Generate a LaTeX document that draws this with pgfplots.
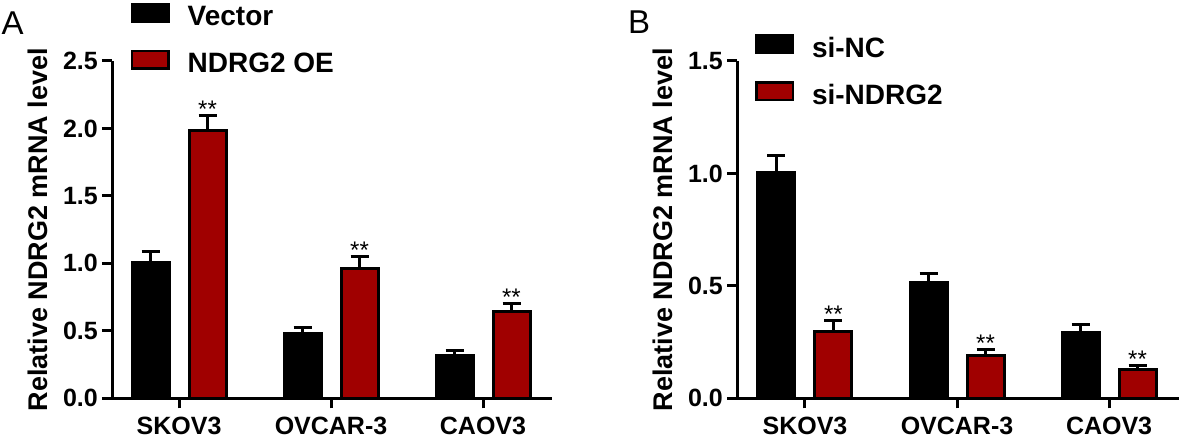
\documentclass[border=0pt]{standalone}
\usepackage{pgfplots}
\pgfplotsset{compat=1.18}
\usepackage{pgfplotstable}
\usepackage{fontspec}
\setmainfont{Liberation Sans}
\definecolor{barred}{RGB}{160,0,0}

\pgfplotstableread{
x y err
0 1.005 0.083
1 0.479 0.045
2 0.314 0.037
}\Avec
\pgfplotstableread{
x y err
0 1.984 0.109
1 0.964 0.086
2 0.642 0.057
}\Aoe
\pgfplotstableread{
x y err
0 1.005 0.074
1 0.514 0.039
2 0.293 0.033
}\Bnc
\pgfplotstableread{
x y err
0 0.296 0.049
1 0.189 0.026
2 0.129 0.015
}\Bsi

\pgfplotsset{
  mybase/.style={
    scale only axis,
    height=337.3pt,
    ymin=0,
    axis x line*=bottom,
    axis y line*=left,
    axis line style={line width=3pt,-},
    every tick/.style={line width=3pt,black},
    tick align=outside,
    major tick length=10pt,
    xtick={0,1,2},
    xticklabels={SKOV3,OVCAR-3,CAOV3},
    xticklabel style={font=\fontsize{25}{25}\selectfont\bfseries, anchor=north, inner sep=0pt, yshift=-9pt},
    yticklabel style={font=\fontsize{25}{25}\selectfont\bfseries, anchor=east, inner sep=0pt, xshift=-4pt},
    ylabel={Relative NDRG2 mRNA level},
    clip=false,
    legend cell align=left,
    legend image code/.code={\draw[##1, line width=2.5pt] (1.25pt,-5.75pt) rectangle (37.75pt,11.75pt);},
    legend style={draw=none, fill=none, anchor=north west, inner sep=0pt, outer sep=0pt,
      font=\fontsize{28}{28}\selectfont\bfseries, row sep=24pt, column sep=18pt,
      nodes={inner sep=0pt, text height=20pt, text depth=0pt}},
  },
  barcommon/.style={ybar, bar width=37pt, bar shift=0pt, draw=black, line width=3pt,
    error bars/.cd, y dir=plus, y explicit,
    error bar style={line width=3pt, black},
    error mark options={rotate=90, line width=3pt, black, mark size=9pt}},
  blackbar/.style={fill=black, barcommon},
  redbar/.style={fill=barred, barcommon},
  stars/.style={draw=none, mark=none, forget plot, nodes near coords={**},
    every node near coord/.style={font=\fontsize{24}{24}\selectfont, anchor=base, inner sep=0pt, yshift=-2pt}},
}

\begin{document}
\begin{tikzpicture}
\useasboundingbox (0,0) rectangle (1181pt,438pt);

\begin{axis}[mybase,
  at={(112pt,39.7pt)}, anchor=south west,
  width=440pt, xmin=-0.441, xmax=2.454,
  ymax=2.5, ytick={0,0.5,1,1.5,2,2.5},
  yticklabels={0.0,0.5,1.0,1.5,2.0,2.5},
  every axis y label/.style={at={(axis description cs:-0.1693,0.5)}, rotate=90, anchor=center, font=\fontsize{27}{27}\selectfont\bfseries},
  legend style={at={(axis description cs:0,1)}, xshift=18.7pt, yshift=58.2pt},
]
\addplot[blackbar] table[x expr=\thisrow{x}-0.1875, y=y, y error=err] {\Avec};
\addlegendentry{Vector}
\addplot[redbar] table[x expr=\thisrow{x}+0.1875, y=y, y error=err] {\Aoe};
\addlegendentry{NDRG2 OE}
\addplot[stars] table[x expr=\thisrow{x}+0.1875, y expr=\thisrow{y}+\thisrow{err}] {\Aoe};
\end{axis}

\begin{axis}[mybase,
  at={(737pt,39.7pt)}, anchor=south west,
  width=442pt, xmin=-0.447, xmax=2.46,
  ymax=1.5, ytick={0,0.5,1,1.5},
  yticklabels={0.0,0.5,1.0,1.5},
  every axis y label/.style={at={(axis description cs:-0.1674,0.5)}, rotate=90, anchor=center, font=\fontsize{27}{27}\selectfont\bfseries},
  legend style={at={(axis description cs:0,1)}, xshift=18pt, yshift=26.5pt},
]
\addplot[blackbar] table[x expr=\thisrow{x}-0.1875, y=y, y error=err] {\Bnc};
\addlegendentry{si-NC}
\addplot[redbar] table[x expr=\thisrow{x}+0.1875, y=y, y error=err] {\Bsi};
\addlegendentry{si-NDRG2}
\addplot[stars] table[x expr=\thisrow{x}+0.1875, y expr=\thisrow{y}+\thisrow{err}] {\Bsi};
\end{axis}

\node[anchor=base west, inner sep=0pt, font=\fontsize{33}{33}\selectfont] at (1.5pt,403.7pt) {A};
\node[anchor=base west, inner sep=0pt, font=\fontsize{33}{33}\selectfont] at (628pt,404.7pt) {B};
\end{tikzpicture}
\end{document}
